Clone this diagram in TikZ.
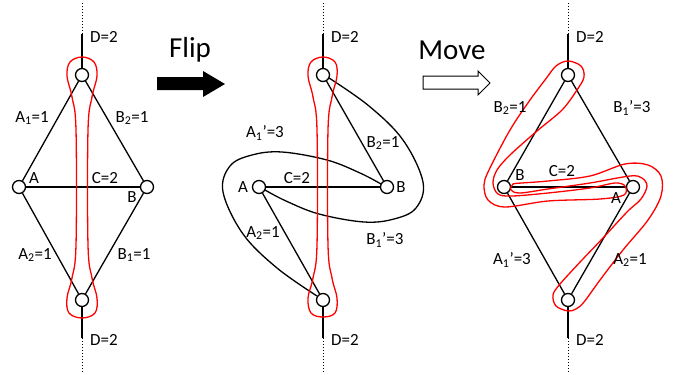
\documentclass[tikz,border=0pt]{standalone}
\usepackage{fontspec}
\setmainfont{Carlito}
\begin{document}
\begin{tikzpicture}[x=1pt,y=-1pt,
  nd/.style={circle,draw,fill=white,line width=1.3pt,minimum size=13pt,inner sep=0pt},
  edge/.style={line width=1.3pt},
  vsolid/.style={line width=1.3pt},
  vdot/.style={line width=1pt,dotted},
  rloop/.style={red,line width=1.3pt},
  bloop/.style={line width=1.3pt},
  lbl/.style={font=\fontsize{17}{20}\selectfont,inner sep=0pt},
  big/.style={font=\fontsize{29}{34}\selectfont,inner sep=0pt}]
\useasboundingbox (0,0) rectangle (675,375);

% ---------------- Panel 1 ----------------
\node[nd] (t1) at (82,75) {};
\node[nd] (b1) at (82,300) {};
\node[nd] (a1) at (19,187) {};
\node[nd] (c1) at (147,187) {};
\coordinate (t1s) at (82,34);
\coordinate (t1e) at (82,2);
\coordinate (b1s) at (82,338);
\coordinate (b1e) at (82,372);
\draw[vsolid] (t1) -- (t1s);
\draw[vdot] (t1s) -- (t1e);
\draw[vsolid] (b1) -- (b1s);
\draw[vdot] (b1s) -- (b1e);
\draw[edge] (t1) -- (a1);
\draw[edge] (t1) -- (c1);
\draw[edge] (b1) -- (a1);
\draw[edge] (b1) -- (c1);
\draw[edge] (a1) -- (c1);
\draw[rloop] plot[smooth cycle,tension=0.6] coordinates {(82,57) (94,62) (97,76) (92,97) (88,130) (88,245) (92,278) (97,298) (95,313) (82,318) (69,313) (67,298) (72,278) (76,245) (76,130) (72,97) (67,76) (70,62)};
\node[lbl] at (104,37) {D=2};
\node[lbl] at (104,340) {D=2};
\node[lbl] at (32,118) {A\textsubscript{1}=1};
\node[lbl] at (132,118) {B\textsubscript{2}=1};
\node[lbl] at (35,255) {A\textsubscript{2}=1};
\node[lbl] at (134,255) {B\textsubscript{1}=1};
\node[lbl] at (34,178) {A};
\node[lbl] at (105,178) {C=2};
\node[lbl] at (132,197) {B};

% ---------------- Flip arrow ----------------
\node[big] at (190,50) {Flip};
\fill (157,77) -- (203,77) -- (203,71) -- (225,84) -- (203,97) -- (203,90) -- (157,90) -- cycle;

% ---------------- Panel 2 ----------------
\node[nd] (t2) at (323,75) {};
\node[nd] (b2) at (323,300) {};
\node[nd] (a2) at (259,187) {};
\node[nd] (c2) at (387,187) {};
\coordinate (t2s) at (323,34);
\coordinate (t2e) at (323,2);
\coordinate (b2s) at (323,338);
\coordinate (b2e) at (323,372);
\draw[vsolid] (t2) -- (t2s);
\draw[vdot] (t2s) -- (t2e);
\draw[vsolid] (b2) -- (b2s);
\draw[vdot] (b2s) -- (b2e);
\draw[edge] (t2) -- (c2);
\draw[edge] (a2) -- (c2);
\draw[edge] (a2) -- (b2);
\draw[bloop] plot[smooth,tension=0.6] coordinates {(317,296) (277,268) (243,234) (223,192) (230,166) (252,155) (282,152) (327,160) (360,173) (381,184)};
\draw[bloop] plot[smooth,tension=0.6] coordinates {(329,78) (369,106) (403,140) (423,182) (416,208) (394,219) (364,222) (319,214) (286,201) (265,190)};
\draw[rloop] plot[smooth cycle,tension=0.6] coordinates {(323,57) (335,62) (337,76) (332,97) (328,130) (328,245) (332,278) (337,298) (335,313) (323,317) (311,313) (308,298) (313,278) (317,245) (317,130) (313,97) (308,76) (311,62)};
\node[lbl] at (345,37) {D=2};
\node[lbl] at (345,340) {D=2};
\node[lbl] at (265,133) {A\textsubscript{1}’=3};
\node[lbl] at (383,143) {B\textsubscript{2}=1};
\node[lbl] at (243,187) {A};
\node[lbl] at (297,178) {C=2};
\node[lbl] at (401,187) {B};
\node[lbl] at (263,233) {A\textsubscript{2}=1};
\node[lbl] at (385,240) {B\textsubscript{1}’=3};

% ---------------- Move arrow ----------------
\node[big] at (452,50) {Move};
\draw[line width=1pt,fill=white] (423,76) -- (478,76) -- (478,71) -- (490,83) -- (478,95) -- (478,89) -- (423,89) -- cycle;

% ---------------- Panel 3 ----------------
\node[nd] (t3) at (568,75) {};
\node[nd] (b3) at (568,300) {};
\node[nd] (l3) at (504,187) {};
\node[nd] (r3) at (633,187) {};
\coordinate (t3s) at (568,34);
\coordinate (t3e) at (568,2);
\coordinate (b3s) at (568,338);
\coordinate (b3e) at (568,372);
\draw[vsolid] (t3) -- (t3s);
\draw[vdot] (t3s) -- (t3e);
\draw[vsolid] (b3) -- (b3s);
\draw[vdot] (b3s) -- (b3e);
\draw[edge] (t3) -- (l3);
\draw[edge] (t3) -- (r3);
\draw[edge] (l3) -- (r3);
\draw[edge] (l3) -- (b3);
\draw[edge] (r3) -- (b3);
% loop around top node, B and A (upper-left band)
\draw[rloop] plot[smooth cycle,tension=0.55] coordinates {(568,61) (581,66) (584,77) (577,90) (562,110) (537,131) (510,155) (497,170) (493,183) (498,194) (512,196) (548,193) (590,188) (615,183) (625,186) (624,195) (600,199) (548,201) (505,207) (488,200) (484,185) (489,170) (510,130) (530,100) (545,80) (556,66)};
% loop around B, A and bottom node (lower-right band)
\draw[rloop] plot[smooth cycle,tension=0.55] coordinates {(568,311) (556,306) (553,295) (560,284) (582,260) (603,238) (627,212) (641,199) (647,186) (642,178) (630,176) (590,183) (548,189) (520,193) (511,190) (513,184) (522,183) (548,181) (590,176) (625,164) (648,165) (661,176) (661,196) (648,220) (623,250) (600,280) (584,302) (576,309)};
\node[lbl] at (590,37) {D=2};
\node[lbl] at (590,340) {D=2};
\node[lbl] at (510,108) {B\textsubscript{2}=1};
\node[lbl] at (632,108) {B\textsubscript{1}’=3};
\node[lbl] at (520,175) {B};
\node[lbl] at (562,171) {C=2};
\node[lbl] at (616,198) {A};
\node[lbl] at (512,260) {A\textsubscript{1}’=3};
\node[lbl] at (630,260) {A\textsubscript{2}=1};
\end{tikzpicture}
\end{document}
